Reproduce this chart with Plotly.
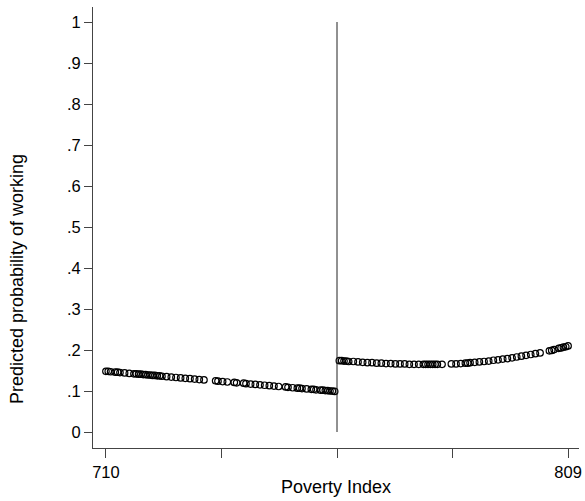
import plotly.graph_objects as go

# Left of cutoff
x_left = [710, 710.5, 711, 712, 712.5, 713, 714, 715, 716, 716.5, 717, 717.5, 718, 718.5,
          719, 719.5, 720, 720.5, 721, 721.5, 722, 723, 724, 725, 726, 727, 728, 729,
          730, 731, 733.5, 734, 735, 736, 737.5, 738, 739.5, 740, 741, 742, 743, 744,
          745, 746, 747, 748.5, 749, 750, 751, 751.5, 752, 753, 754, 754.5, 755, 756,
          756.5, 757, 757.5, 758, 758.5, 759]
y_left = [0.148, 0.148, 0.147, 0.146, 0.146, 0.145, 0.144, 0.143, 0.142, 0.142, 0.141, 0.141,
          0.140, 0.140, 0.139, 0.139, 0.138, 0.138, 0.137, 0.137, 0.136, 0.135, 0.134, 0.133,
          0.132, 0.131, 0.130, 0.129, 0.128, 0.127, 0.125, 0.124, 0.123, 0.122, 0.121, 0.120,
          0.119, 0.118, 0.117, 0.116, 0.115, 0.114, 0.113, 0.112, 0.111, 0.110, 0.109, 0.108,
          0.107, 0.107, 0.106, 0.105, 0.104, 0.104, 0.103, 0.102, 0.102, 0.101, 0.101, 0.100,
          0.100, 0.099]

# Right of cutoff
x_right = [760, 760.5, 761, 761.5, 762, 763, 764, 765, 766, 767, 768, 769, 770, 771,
           772, 773, 774, 775, 776, 777, 778, 778.5, 779, 779.5, 780, 780.5, 781, 782,
           784, 785, 786, 787, 787.5, 788, 789, 790, 791, 792, 793, 794, 795, 796, 797,
           798, 799, 800, 801, 802, 803, 805, 805.5, 806, 807, 807.5, 808, 808.5, 809]
y_right = [0.174, 0.174, 0.173, 0.173, 0.172, 0.172, 0.171, 0.170, 0.169, 0.169, 0.168, 0.168,
           0.167, 0.167, 0.166, 0.166, 0.166, 0.165, 0.165, 0.165, 0.165, 0.165, 0.165, 0.165,
           0.165, 0.165, 0.165, 0.165, 0.166, 0.166, 0.167, 0.168, 0.168, 0.169, 0.170, 0.171,
           0.172, 0.173, 0.175, 0.176, 0.178, 0.179, 0.181, 0.183, 0.185, 0.187, 0.189, 0.191,
           0.193, 0.198, 0.199, 0.201, 0.204, 0.205, 0.207, 0.208, 0.210]

cutoff = 759.5
x_tickvals = [710, 734.75, 759.5, 784.25, 809]
x_ticktext = ["710", "", "", "", "809"]
y_tickvals = [0, 0.1, 0.2, 0.3, 0.4, 0.5, 0.6, 0.7, 0.8, 0.9, 1]
y_ticktext = ["0", ".1", ".2", ".3", ".4", ".5", ".6", ".7", ".8", ".9", "1"]
x_title = "Poverty Index"
y_title = "Predicted probability of working"

marker = dict(symbol="circle-open", size=6.5, color="black", line=dict(width=1.2, color="black"))

fig = go.Figure()
fig.add_trace(go.Scatter(x=x_left, y=y_left, mode="markers", marker=marker, showlegend=False))
fig.add_trace(go.Scatter(x=x_right, y=y_right, mode="markers", marker=marker, showlegend=False))

fig.add_shape(type="line", x0=cutoff, x1=cutoff, y0=0, y1=1, xref="x", yref="y",
              line=dict(color="#222", width=1))

fig.add_annotation(text=x_title, xref="paper", yref="paper", x=0.501, y=0,
                   xanchor="center", yanchor="middle", yshift=-39, showarrow=False,
                   font=dict(size=18))
fig.add_annotation(text=y_title, xref="paper", yref="paper", x=0, y=0.383,
                   xanchor="center", yanchor="middle", xshift=-76, textangle=-90,
                   showarrow=False, font=dict(size=18))

fig.update_layout(
    width=585, height=501,
    margin=dict(l=93, r=3, t=7, b=53),
    paper_bgcolor="white", plot_bgcolor="white",
    font=dict(family="Liberation Sans, Arial, sans-serif", size=16.5, color="black"),
    xaxis=dict(range=[707.23, 811.34], tickvals=x_tickvals, ticktext=x_ticktext,
               showline=True, linecolor="#444", linewidth=1, mirror=False,
               ticks="outside", ticklen=9, tickcolor="#444", showgrid=False, zeroline=False),
    yaxis=dict(range=[-0.039, 1.0366], tickvals=y_tickvals, ticktext=y_ticktext,
               showline=True, linecolor="#444", linewidth=1,
               ticks="outside", ticklen=8, tickcolor="#444", showgrid=False, zeroline=False),
)

fig.write_html(
    "out.html",
    config={"displayModeBar": False},
    post_script="document.body.style.margin='0';document.body.style.overflow='hidden';"
                "document.documentElement.style.overflow='hidden';",
)
